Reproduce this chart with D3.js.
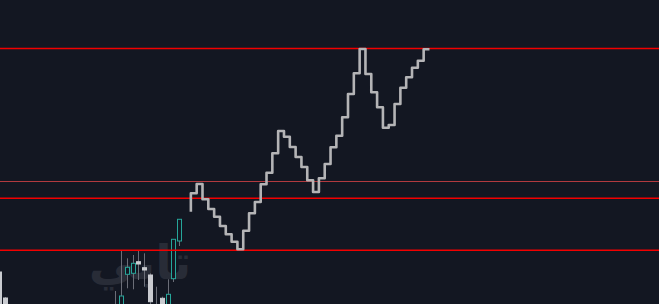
<!DOCTYPE html>
<html>
<head>
<meta charset="utf-8">
<script src="https://cdn.jsdelivr.net/npm/d3@7"></script>
<style>
  html, body { margin: 0; padding: 0; background: #131722; overflow: hidden; }
  svg { display: block; }
</style>
</head>
<body>
<svg id="chart" width="659" height="304"></svg>
<script>
// bar index of each candle (only the ones whose top shows inside the frame)
const candleIdx = [-20, -19, 0, 1, 2, 3, 4, 5, 6, 7, 8, 9, 10, 11];
const candleOpen = [1932, 1906, 1896, 1895, 1929.7, 1930.7, 1942.3, 1936.3, 1929, 1898, 1905.7, 1895, 1925.3, 1963];
const candleHigh = [1934, 1907, 1913, 1954, 1945.7, 1949, 1953.3, 1950.7, 1930.7, 1917.3, 1907.3, 1924.7, 1964.7, 1985];
const candleLow = [1880, 1885, 1880, 1890, 1915.7, 1914.7, 1924, 1917.3, 1890, 1880, 1885, 1890, 1922, 1958];
const candleClose = [1895, 1890, 1899, 1908, 1936.7, 1940.7, 1940, 1934, 1902.3, 1890, 1890, 1909.7, 1964.7, 1984.7];

// projected path (step line), one value per bar starting at bar 13
const pathStart = 13;
const pathValues = [
  1992.3, 2010.7, 2020, 2004.7, 1995, 1987.3, 1978, 1969.7, 1962.3, 1954.7,
  1973.3, 1990.7, 2002, 2019.7, 2031.3, 2050.7, 2073, 2067.3, 2057, 2047,
  2037, 2023.7, 2012, 2025.7, 2040, 2056.7, 2068.3, 2086.7, 2110, 2130.7,
  2155, 2130, 2111.7, 2096.7, 2076.3, 2079, 2100, 2116.3, 2126.7, 2136.3,
  2143.3, 2154.7
];

// horizontal levels
const redLevels = [2155.5, 2005.7, 1953.7];
const thinLevels = [2023];

const watermark = 'تابي';

const width = 659, height = 304;
const svg = d3.select('#chart');

const x = d3.scaleLinear().domain([0, 100]).range([115.2, 697.2]);
const y = d3.scaleLinear().domain([1900, 2204]).range([height, 0]);

svg.append('rect')
  .attr('width', width)
  .attr('height', height)
  .attr('fill', '#131722');

// watermark behind everything
svg.append('text')
  .attr('x', 140)
  .attr('y', 279)
  .attr('text-anchor', 'middle')
  .attr('font-family', 'DejaVu Sans, Noto Sans, sans-serif')
  .attr('font-weight', 'bold')
  .attr('font-size', 48)
  .attr('fill', '#282c37')
  .text(watermark);

// candles
const candles = candleIdx.map((d, i) => ({
  i: d, o: candleOpen[i], h: candleHigh[i], l: candleLow[i], c: candleClose[i]
}));
const bodyW = 4;

const cg = svg.append('g').attr('class', 'candles');
cg.selectAll('line.wick')
  .data(candles)
  .enter()
  .append('line')
  .attr('class', 'wick')
  .attr('x1', d => Math.round(x(d.i)) + 0.5)
  .attr('x2', d => Math.round(x(d.i)) + 0.5)
  .attr('y1', d => y(d.h))
  .attr('y2', d => y(d.l))
  .attr('stroke', '#6b6e78')
  .attr('stroke-width', 1);

cg.selectAll('rect.body')
  .data(candles)
  .enter()
  .append('rect')
  .attr('class', 'body')
  .attr('x', d => Math.round(x(d.i)) + 0.5 - bodyW / 2)
  .attr('y', d => y(Math.max(d.o, d.c)))
  .attr('width', bodyW)
  .attr('height', d => Math.max(1, Math.abs(y(d.o) - y(d.c))))
  .attr('fill', d => d.c >= d.o ? '#131722' : '#c9cbd0')
  .attr('stroke', d => d.c >= d.o ? '#26a69a' : '#c9cbd0')
  .attr('stroke-width', 1);

// level lines
svg.selectAll('line.level')
  .data(redLevels)
  .enter()
  .append('line')
  .attr('class', 'level')
  .attr('x1', 0)
  .attr('x2', width)
  .attr('y1', d => y(d))
  .attr('y2', d => y(d))
  .attr('stroke', '#f20000')
  .attr('stroke-width', 1.6);

svg.selectAll('line.thin')
  .data(thinLevels)
  .enter()
  .append('line')
  .attr('class', 'thin')
  .attr('x1', 0)
  .attr('x2', width)
  .attr('y1', d => Math.round(y(d)) + 0.5)
  .attr('y2', d => Math.round(y(d)) + 0.5)
  .attr('stroke', '#b23a3f')
  .attr('stroke-width', 1);

// step path
const line = d3.line()
  .x((d, i) => x(pathStart + i))
  .y(d => y(d))
  .curve(d3.curveStepBefore);

svg.append('path')
  .datum(pathValues)
  .attr('d', line)
  .attr('fill', 'none')
  .attr('stroke', '#b4b4b6')
  .attr('stroke-width', 2.6)
  .attr('stroke-linejoin', 'round')
  .attr('stroke-linecap', 'butt');
</script>
</body>
</html>
